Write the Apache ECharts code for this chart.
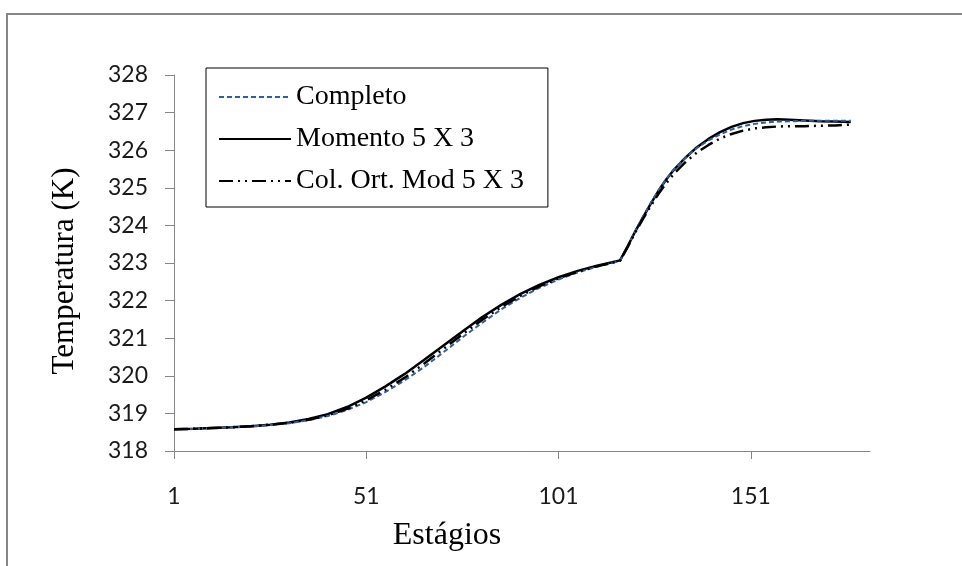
<!DOCTYPE html>
<html>
<head>
<meta charset="utf-8">
<script src="https://cdn.jsdelivr.net/npm/echarts@6/dist/echarts.min.js"></script>
<style>
html,body{margin:0;padding:0;background:#fff;}
#chart{width:962px;height:566px;}
</style>
</head>
<body>
<div id="chart"></div>
<script>
var stages = [1, 6, 11, 16, 21, 26, 31, 36, 41, 46, 51, 56, 61, 66, 71, 76, 81, 86, 91, 96, 101, 106, 111, 115, 117, 119, 121, 123, 125, 127, 129, 131, 134, 137, 140, 143, 146, 149, 152, 155, 158, 161, 165, 169, 173, 177];

var completo = [318.58, 318.59, 318.61, 318.63, 318.65, 318.69, 318.74, 318.82, 318.93, 319.09, 319.30, 319.57, 319.88, 320.23, 320.62, 321.02, 321.40, 321.76, 322.07, 322.34, 322.56, 322.75, 322.90, 323.00, 323.06, 323.45, 323.86, 324.24, 324.60, 324.93, 325.23, 325.49, 325.80, 326.06, 326.26, 326.42, 326.55, 326.64, 326.70, 326.74, 326.76, 326.77, 326.78, 326.78, 326.78, 326.78];

var momento = [318.58, 318.59, 318.61, 318.63, 318.66, 318.70, 318.76, 318.85, 318.98, 319.17, 319.42, 319.72, 320.05, 320.42, 320.80, 321.18, 321.55, 321.88, 322.17, 322.42, 322.62, 322.79, 322.93, 323.02, 323.07, 323.45, 323.85, 324.22, 324.58, 324.92, 325.22, 325.48, 325.80, 326.08, 326.30, 326.48, 326.62, 326.72, 326.78, 326.81, 326.82, 326.81, 326.79, 326.77, 326.76, 326.75];

var colOrt = [318.58, 318.59, 318.61, 318.63, 318.66, 318.70, 318.75, 318.83, 318.95, 319.12, 319.35, 319.63, 319.95, 320.32, 320.71, 321.10, 321.48, 321.82, 322.12, 322.38, 322.59, 322.77, 322.91, 323.01, 323.06, 323.43, 323.82, 324.18, 324.52, 324.84, 325.12, 325.37, 325.68, 325.94, 326.14, 326.31, 326.43, 326.52, 326.58, 326.61, 326.63, 326.64, 326.64, 326.65, 326.66, 326.68];

var seriesNames = ['Completo', 'Momento 5 X 3', 'Col. Ort. Mod 5 X 3'];
var xTickValues = [1, 51, 101, 151];
var xTitle = 'Estágios';
var yTitle = 'Temperatura (K)';

function pairs(vals) {
  return stages.map(function (s, i) { return [s, vals[i]]; });
}

var chart = echarts.init(document.getElementById('chart'));
var tickFont = 'Lato';
var serif = '"Liberation Serif", "Times New Roman", serif';

chart.setOption({
  animation: false,
  backgroundColor: '#ffffff',
  grid: { left: 174, right: 92, top: 75, bottom: 115, containLabel: false },
  legend: {
    orient: 'vertical',
    left: 206,
    top: 68,
    padding: [15, 24, 12, 12],
    itemGap: 14,
    itemWidth: 72,
    itemHeight: 14,
    borderColor: '#000',
    borderWidth: 1,
    itemStyle: { opacity: 0, borderWidth: 0 },
    textStyle: { fontFamily: serif, fontSize: 28, color: '#000', padding: [0, 0, 0, 0] },
    data: seriesNames
  },
  xAxis: {
    type: 'value',
    min: 1,
    max: 182,
    splitLine: { show: false },
    axisLine: { show: true, lineStyle: { color: '#868686', width: 1 } },
    axisTick: { show: true, inside: false, length: 8, customValues: xTickValues, lineStyle: { color: '#868686' } },
    axisLabel: { customValues: xTickValues, margin: 34, fontFamily: tickFont, fontSize: 23, color: '#1a1a1a' }
  },
  yAxis: {
    type: 'value',
    min: 318,
    max: 328,
    interval: 1,
    splitLine: { show: false },
    axisLine: { show: true, lineStyle: { color: '#868686', width: 1 } },
    axisTick: { show: true, inside: false, length: 9, lineStyle: { color: '#868686' } },
    axisLabel: { margin: 26, fontFamily: tickFont, fontSize: 23, color: '#1a1a1a' }
  },
  graphic: [
    { type: 'polyline', shape: { points: [[7, 566], [7, 14], [962, 14]] }, style: { stroke: '#878787', lineWidth: 2, fill: null } },
    { type: 'text', x: 65, y: 271, rotation: Math.PI / 2, style: { text: yTitle, font: '31px "Liberation Serif", serif', fill: '#000', textAlign: 'center', textVerticalAlign: 'middle' } },
    { type: 'text', x: 447, y: 536, style: { text: xTitle, font: '32px "Liberation Serif", serif', fill: '#000', textAlign: 'center', textVerticalAlign: 'middle' } }
  ],
  series: [
    {
      name: seriesNames[0], type: 'line', symbol: 'none', data: pairs(completo), z: 4,
      lineStyle: { color: '#2f5f9e', width: 2, type: [5, 3] },
      itemStyle: { color: '#2f5f9e' }
    },
    {
      name: seriesNames[1], type: 'line', symbol: 'none', data: pairs(momento), z: 3,
      lineStyle: { color: '#000', width: 2.5, type: 'solid' },
      itemStyle: { color: '#000' }
    },
    {
      name: seriesNames[2], type: 'line', symbol: 'none', data: pairs(colOrt), z: 5,
      lineStyle: { color: '#000', width: 2.5, type: [14, 5, 2, 5, 2, 5] },
      itemStyle: { color: '#000' }
    }
  ]
});
</script>
</body>
</html>
